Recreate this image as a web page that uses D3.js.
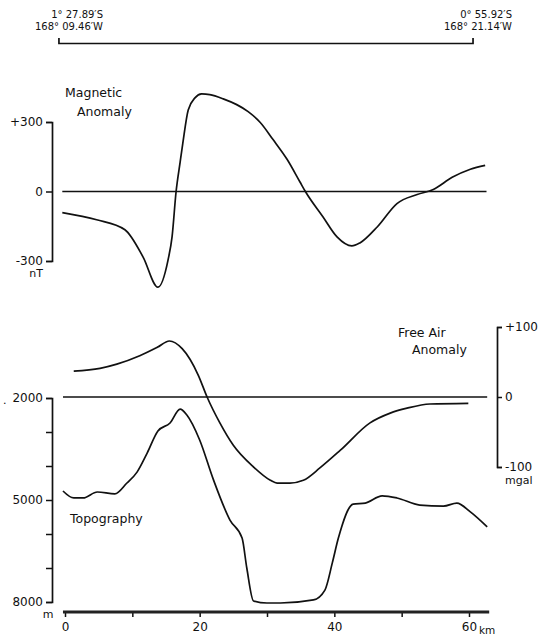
<!DOCTYPE html>
<html>
<head>
<meta charset="utf-8">
<script src="https://d3js.org/d3.v7.min.js"></script>
<style>
  body { margin: 0; background: #fff; }
  text { font-family: "DejaVu Sans", sans-serif; fill: #111; }
</style>
</head>
<body>
<div id="chart"></div>
<script>
// magnetic anomaly (nT) against distance (km)
var magKm  = [-0.4, 4.7, 8.9, 11.6, 13.8, 15.3, 15.9, 16.5, 17.1, 17.5, 18.3, 19.3, 20.3, 21.5, 23.5, 25.5, 27.2, 29.0, 30.9, 33.0, 34.9, 35.7, 38.3, 40.4, 42.6, 43.8, 46.4, 49.3, 52.3, 54.7, 57.5, 60.2, 62.4];
var magVal = [-91, -122, -165, -283, -413, -296, -196, 0, 127, 209, 352, 404, 421, 418, 400, 375, 345, 298, 224, 138, 41, 0, -109, -196, -235, -222, -152, -52, -13, 9, 61, 96, 113];

// free air anomaly (mgal)
var faKm  = [1.3, 5.2, 7.7, 11.1, 13.7, 15.5, 17.4, 19.8, 21.1, 23.0, 25.0, 28.0, 30.5, 31.5, 33.4, 35.4, 37.9, 40.9, 45.3, 48.3, 50.8, 54.2, 59.9];
var faVal = [37, 41, 47, 59, 71, 80, 69, 31, 0, -37, -69, -100, -119, -123, -123, -119, -101, -76, -37, -23, -16, -10, -9];

// topography, depth (m)
var topoKm  = [-0.3, 1.3, 2.7, 4.8, 7.4, 9.2, 10.7, 12.2, 13.8, 15.6, 17.1, 18.1, 20.0, 22.0, 24.5, 26.3, 27.0, 28.0, 30.0, 32.0, 36.9, 38.6, 39.7, 40.6, 42.8, 44.6, 47.1, 49.3, 52.7, 56.2, 58.2, 60.2, 62.7];
var topoVal = [4735, 4940, 4940, 4765, 4820, 4500, 4180, 3620, 2970, 2735, 2325, 2500, 3235, 4380, 5590, 6120, 7000, 7970, 8030, 8030, 7940, 7650, 6850, 6120, 5120, 5090, 4880, 4940, 5150, 5180, 5090, 5350, 5790];

var kmTicks = [0, 10, 20, 30, 40, 50, 60];
var kmLabels = [0, 20, 40, 60];
var magTicks = [-300, 0, 300];
var faTicks = [-100, 0, 100];
var topoTicks = [2000, 3000, 4000, 5000, 6000, 7000, 8000];
var topoLabels = [2000, 5000, 8000];

var W = 539, H = 638;
var svg = d3.select('#chart').append('svg')
    .attr('width', W).attr('height', H);

var x = d3.scaleLinear().domain([0, 60]).range([65, 469]);
var yMag = d3.scaleLinear().domain([-300, 300]).range([261, 122]);
var yFA = d3.scaleLinear().domain([-100, 100]).range([467, 327]);
var yTopo = d3.scaleLinear().domain([2000, 8000]).range([398, 602]);

function zip(a, b) { return a.map(function(v, i) { return [v, b[i]]; }); }

function curve(data, ys) {
  var line = d3.line()
    .x(function(d) { return x(d[0]); })
    .y(function(d) { return ys(d[1]); })
    .curve(d3.curveMonotoneX);
  svg.append('path')
    .attr('fill', 'none')
    .attr('stroke', '#111')
    .attr('stroke-width', 1.7)
    .attr('stroke-linejoin', 'round')
    .attr('d', line(data));
}

// top location bar
var header = svg.append('g');
header.append('path')
  .attr('fill', 'none').attr('stroke', '#111').attr('stroke-width', 1.7)
  .attr('d', 'M' + x(-0.9) + ',38V43.5H' + x(60.6) + 'V38');
header.append('text').attr('x', 103).attr('y', 18).attr('text-anchor', 'end').attr('font-size', 10).text('1° 27.89′S');
header.append('text').attr('x', 103).attr('y', 30).attr('text-anchor', 'end').attr('font-size', 10).text('168° 09.46′W');
header.append('text').attr('x', 512).attr('y', 18).attr('text-anchor', 'end').attr('font-size', 10).text('0° 55.92′S');
header.append('text').attr('x', 512).attr('y', 30).attr('text-anchor', 'end').attr('font-size', 10).text('168° 21.14′W');

// magnetic panel
var magAxis = d3.axisLeft(yMag).tickValues(magTicks).tickSize(6)
  .tickFormat(function(d) { return d > 0 ? '+' + d : d; });
svg.append('g').attr('transform', 'translate(52,0)').call(magAxis);
svg.append('line').attr('x1', x(-0.4)).attr('x2', x(62.6))
  .attr('y1', yMag(0)).attr('y2', yMag(0)).attr('stroke', '#111').attr('stroke-width', 1.7);
curve(zip(magKm, magVal), yMag);
svg.append('text').attr('x', 65).attr('y', 97).attr('font-size', 12.5).text('Magnetic');
svg.append('text').attr('x', 77).attr('y', 116).attr('font-size', 12.5).text('Anomaly');
svg.append('text').attr('x', 43).attr('y', 277).attr('text-anchor', 'end').attr('font-size', 11).text('nT');

// free air panel (right axis)
var faAxis = d3.axisRight(yFA).tickValues(faTicks).tickSize(5)
  .tickFormat(function(d) { return d > 0 ? '+' + d : d; });
svg.append('g').attr('transform', 'translate(497,0)').call(faAxis);
svg.append('line').attr('x1', x(-0.3)).attr('x2', x(62.7))
  .attr('y1', yFA(0)).attr('y2', yFA(0)).attr('stroke', '#111').attr('stroke-width', 1.7);
curve(zip(faKm, faVal), yFA);
svg.append('text').attr('x', 398).attr('y', 337).attr('font-size', 12.5).text('Free Air');
svg.append('text').attr('x', 412).attr('y', 354).attr('font-size', 12.5).text('Anomaly');
svg.append('text').attr('x', 505).attr('y', 484).attr('font-size', 11).text('mgal');

// topography panel
var topoAxis = d3.axisLeft(yTopo).tickValues(topoTicks).tickSize(6)
  .tickFormat(function(d) { return topoLabels.indexOf(d) >= 0 ? d : ''; });
svg.append('g').attr('transform', 'translate(52,0)').call(topoAxis);
curve(zip(topoKm, topoVal), yTopo);
svg.append('text').attr('x', 70).attr('y', 523).attr('font-size', 12.5).text('Topography');
svg.append('text').attr('x', 3).attr('y', 404).attr('font-size', 11).text('.');
svg.append('text').attr('x', 48).attr('y', 618).attr('text-anchor', 'middle').attr('font-size', 11).text('m');

// distance axis
var kmAxis = d3.axisBottom(x).tickValues(kmTicks).tickSize(5)
  .tickFormat(function(d) { return kmLabels.indexOf(d) >= 0 ? d : ''; });
var gx = svg.append('g').attr('transform', 'translate(0,612)').call(kmAxis);
gx.select('.domain').remove();
svg.append('line').attr('x1', x(-0.3)).attr('x2', x(63))
  .attr('y1', 612).attr('y2', 612).attr('stroke', '#222').attr('stroke-width', 3);
svg.append('text').attr('x', 479).attr('y', 634).attr('font-size', 10.5).text('km');

svg.selectAll('.tick text').attr('font-size', 12).attr('fill', '#111');
svg.selectAll('.tick line').attr('stroke', '#111').attr('stroke-width', 1.5);
svg.selectAll('.domain').attr('stroke', '#111').attr('stroke-width', 1.7);
gx.selectAll('.tick text').attr('dy', '0.95em');
</script>
</body>
</html>
